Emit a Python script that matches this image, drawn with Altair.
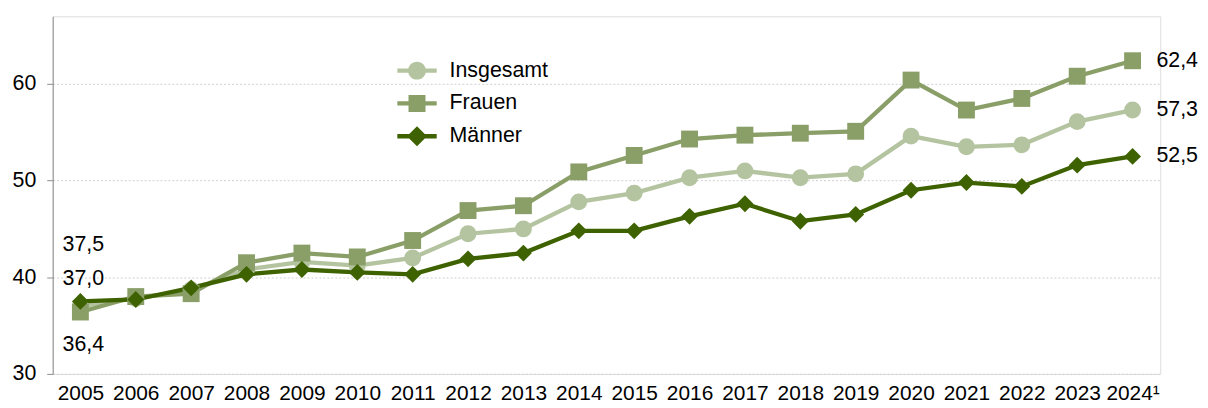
import altair as alt
import pandas as pd

years = ["2005", "2006", "2007", "2008", "2009", "2010", "2011", "2012", "2013", "2014",
         "2015", "2016", "2017", "2018", "2019", "2020", "2021", "2022", "2023", "2024¹"]
insgesamt = [37.0, 37.8, 38.7, 40.8, 41.6, 41.2, 42.0, 44.5, 45.0, 47.8,
             48.7, 50.3, 51.0, 50.3, 50.7, 54.6, 53.5, 53.7, 56.1, 57.3]
frauen = [36.4, 38.0, 38.3, 41.5, 42.5, 42.1, 43.8, 46.9, 47.4, 50.9,
          52.6, 54.3, 54.7, 54.9, 55.1, 60.4, 57.3, 58.5, 60.8, 62.4]
maenner = [37.5, 37.7, 38.9, 40.3, 40.8, 40.5, 40.3, 41.9, 42.5, 44.8,
           44.8, 46.3, 47.6, 45.8, 46.5, 49.0, 49.8, 49.4, 51.6, 52.5]
series = ["Insgesamt", "Frauen", "Männer"]
colors = ["#b5c4a0", "#8a9e68", "#3e6200"]

rows = []
for name, vals in zip(series, [insgesamt, frauen, maenner]):
    for i, (y, v) in enumerate(zip(years, vals)):
        rows.append({"Jahr": y, "Wert": v, "Reihe": name, "idx": i,
                     "Label": f"{v:.1f}".replace(".", ",")})
df = pd.DataFrame(rows)

FONT = "Liberation Sans"
FS = 21.5

x = alt.X("Jahr:O", sort=years, title=None,
          axis=alt.Axis(labelAngle=0, domain=False, ticks=False, grid=False,
                        labelFont=FONT, labelFontSize=21, labelColor="#000",
                        labelPadding=9))
y = alt.Y("Wert:Q", title=None,
          scale=alt.Scale(domain=[30, 67], nice=False, zero=False),
          axis=alt.Axis(values=[30, 40, 50, 60], grid=True, gridDash=[2, 2],
                        gridColor="#d0d0d0", gridWidth=1, domain=True,
                        domainColor="#8c8c8c", tickColor="#8c8c8c", tickSize=6,
                        labelFont=FONT, labelFontSize=FS, labelColor="#000",
                        labelPadding=11))

color = alt.Color("Reihe:N", scale=alt.Scale(domain=series, range=colors), legend=None)

base = alt.Chart(df)

lines = base.mark_line(strokeWidth=4.3).encode(
    x=x, y=y, color=color, detail="Reihe:N",
    order=alt.Order("idx:Q"))

points = base.mark_point(filled=True, opacity=1).encode(
    x=x, y=y, color=color,
    size=alt.Size("Reihe:N", scale=alt.Scale(domain=series, range=[289, 289, 400]),
                  legend=None),
    shape=alt.Shape("Reihe:N", scale=alt.Scale(domain=series,
                    range=["circle", "square", "diamond"]), legend=None))

circ = "M-1,0 A1,1 0 1,1 1,0 A1,1 0 1,1 -1,0 Z "
sq = "M-0.95,-0.95 L0.95,-0.95 L0.95,0.95 L-0.95,0.95 Z "
dia = "M0,-1.12 L1.12,0 L0,1.12 L-1.12,0 Z "
bar = "M-2.2,-0.24 L2.2,-0.24 L2.2,0.24 L-2.2,0.24 Z"

leg = dict(title=None, orient="none", legendX=356, legendY=44,
           labelFont=FONT, labelFontSize=FS, labelColor="#000",
           symbolSize=324, symbolStrokeWidth=0, symbolOpacity=1,
           labelOffset=22, rowPadding=10, padding=0)

legend_layer = base.mark_point(filled=True, opacity=0, size=324).encode(
    x=x, y=y,
    color=alt.Color("Reihe:N", scale=alt.Scale(domain=series, range=colors),
                    legend=alt.Legend(**leg)),
    shape=alt.Shape("Reihe:N", scale=alt.Scale(domain=series,
                    range=[circ + bar, sq + bar, dia + bar]),
                    legend=alt.Legend(**leg)))

first = df[df["idx"] == 0]
last = df[df["idx"] == len(years) - 1]

def lab(data, name, dx, dy, align="left"):
    return alt.Chart(data[data["Reihe"] == name]).mark_text(
        font=FONT, fontSize=FS, color="#000", align=align, baseline="middle",
        dx=dx, dy=dy).encode(x=x, y=y, text="Label:N")

labels = [
    lab(first, "Männer", -18, -57),
    lab(first, "Insgesamt", -18, -27),
    lab(first, "Frauen", -18, 33),
    lab(last, "Frauen", 24, 0),
    lab(last, "Insgesamt", 24, 0),
    lab(last, "Männer", 24, 0),
]

chart = alt.layer(legend_layer, lines, points, *labels).resolve_scale(
    color="independent", shape="independent"
).properties(
    width=1115, height=360,
    padding={"left": 45, "top": 7, "right": 40, "bottom": 33},
    autosize=alt.AutoSizeParams(type="none"),
).configure_view(stroke=None).configure(font=FONT)

chart.save("out.html", embed_options={"renderer": "svg", "actions": False})
